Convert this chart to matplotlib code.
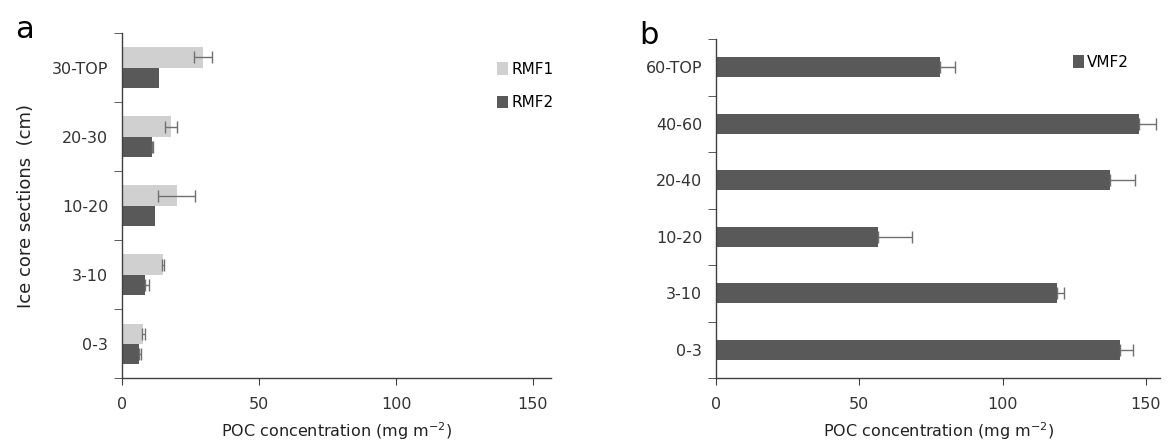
import matplotlib
matplotlib.use("Agg")
import matplotlib.pyplot as plt
import numpy as np

plt.rcParams['font.family'] = ['DejaVu Sans']

# Panel a data
cats_a = ["0-3", "3-10", "10-20", "20-30", "30-TOP"]
rmf1 = [7.8, 15.0, 20.0, 17.9, 29.5]
rmf1_err = [0.5, 0.3, 6.7, 2.3, 3.2]
rmf2 = [6.2, 8.4, 12.1, 10.9, 13.5]
rmf2_err = [0.6, 1.5, 0.0, 0.3, 0.0]

# Panel b data
cats_b = ["0-3", "3-10", "10-20", "20-40", "40-60", "60-TOP"]
vmf2 = [141.0, 119.0, 56.5, 137.4, 147.5, 78.1]
vmf2_err = [4.6, 2.4, 12.0, 8.7, 6.2, 5.2]

light = "#d0d0d0"
dark = "#595959"
errc = "#707070"
spc = "#404040"

fig = plt.figure(figsize=(11.7, 4.43), dpi=100)
ax1 = fig.add_axes([0.1043, 0.1467, 0.3667, 0.7788])
ax2 = fig.add_axes([0.612, 0.1467, 0.3795, 0.765])

def style(ax, n, xmax):
    for s in ["top", "right"]:
        ax.spines[s].set_visible(False)
    for s in ["left", "bottom"]:
        ax.spines[s].set_color(spc)
        ax.spines[s].set_linewidth(1.0)
    ax.set_xlim(0, xmax)
    ax.set_ylim(-0.5, n - 0.5)
    ax.set_xticks([0, 50, 100, 150])
    ax.tick_params(axis="x", direction="out", length=5, color=spc, labelsize=11.5,
                   labelcolor="#333333", pad=9)
    ax.set_yticks(np.arange(n))
    ax.tick_params(axis="y", which="major", length=0, labelsize=11.5, labelcolor="#333333", pad=10)
    ax.set_yticks(np.arange(n + 1) - 0.5, minor=True)
    ax.tick_params(axis="y", which="minor", direction="out", length=6, color=spc)
    ax.set_xlabel("POC concentration (mg m$^{-2}$)", fontsize=11.5, color="#222222", labelpad=6)

def errs(ax, vals, err, ypos, both):
    vals = np.asarray(vals); err = np.asarray(err); ypos = np.asarray(ypos)
    m = err > 0
    lo = err[m] if both else np.zeros(m.sum())
    ax.errorbar(vals[m], ypos[m], xerr=[lo, err[m]], fmt="none", ecolor=errc,
                elinewidth=1.0, capsize=4.5, capthick=1.0)

y = np.arange(len(cats_a))
h = 0.29
ax1.barh(y + h / 2, rmf1, height=h, color=light, label="RMF1")
ax1.barh(y - h / 2, rmf2, height=h, color=dark, label="RMF2")
errs(ax1, rmf1, rmf1_err, y + h / 2, True)
errs(ax1, rmf2, rmf2_err, y - h / 2, False)
style(ax1, len(cats_a), 156.6)
ax1.set_yticklabels(cats_a)
ax1.set_ylabel("Ice core sections  (cm)", fontsize=13, color="#222222", labelpad=12)
ax1.legend(loc="upper right", bbox_to_anchor=(1.037, 0.956), frameon=False, fontsize=11,
           handlelength=0.7, handleheight=0.9, handletextpad=0.2, labelspacing=1.2)

yb = np.arange(len(cats_b))
ax2.barh(yb, vmf2, height=0.354, color=dark, label="VMF2")
errs(ax2, vmf2, vmf2_err, yb, False)
style(ax2, len(cats_b), 155.0)
ax2.set_yticklabels(cats_b)
ax2.legend(loc="upper right", bbox_to_anchor=(0.96, 0.995), frameon=False, fontsize=11,
           handlelength=0.7, handleheight=0.9, handletextpad=0.2)

fig.text(0.013, 0.915, "a", fontsize=22, color="black")
fig.text(0.546, 0.900, "b", fontsize=22, color="black")

fig.savefig("out.png", dpi=100)
